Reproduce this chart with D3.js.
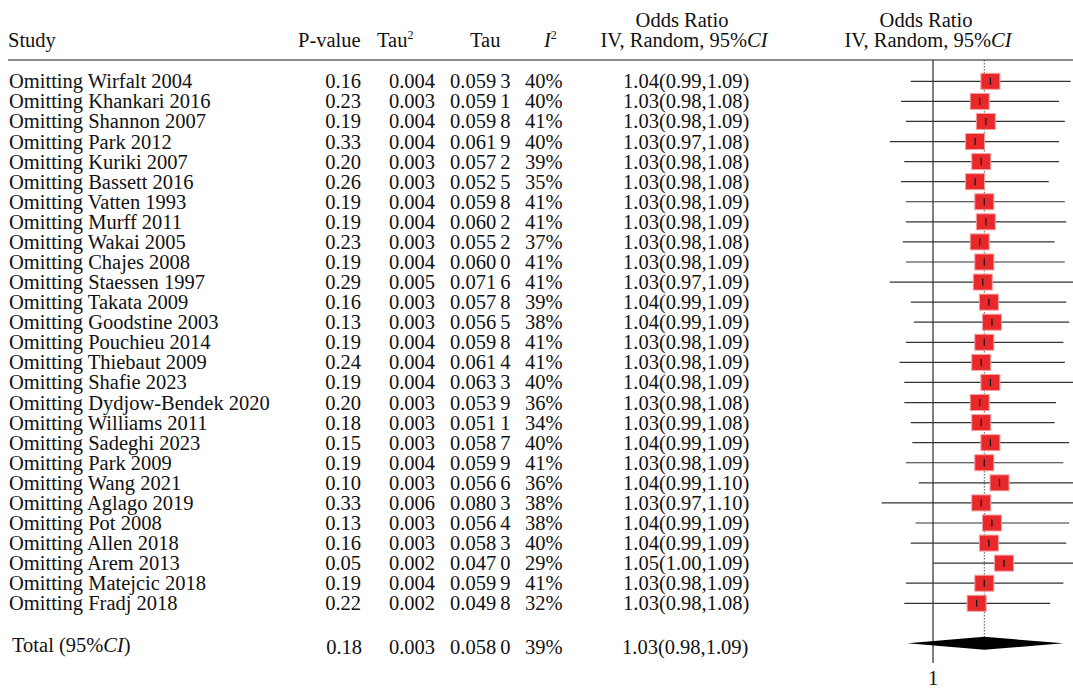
<!DOCTYPE html>
<html>
<head>
<meta charset="utf-8">
<script src="https://cdn.jsdelivr.net/npm/d3@7"></script>
<style>
  body { margin: 0; background: #fff; }
  text { font-family: "Liberation Serif", "Times New Roman", serif; fill: #111; }
</style>
</head>
<body>
<svg id="chart" width="1073" height="690"></svg>
<script>
// Leave-one-out sensitivity analysis: each row omits one study
const studies = [
  "Omitting Wirfalt 2004", "Omitting Khankari 2016", "Omitting Shannon 2007",
  "Omitting Park 2012", "Omitting Kuriki 2007", "Omitting Bassett 2016",
  "Omitting Vatten 1993", "Omitting Murff 2011", "Omitting Wakai 2005",
  "Omitting Chajes 2008", "Omitting Staessen 1997", "Omitting Takata 2009",
  "Omitting Goodstine 2003", "Omitting Pouchieu 2014", "Omitting Thiebaut 2009",
  "Omitting Shafie 2023", "Omitting Dydjow-Bendek 2020", "Omitting Williams 2011",
  "Omitting Sadeghi 2023", "Omitting Park 2009", "Omitting Wang 2021",
  "Omitting Aglago 2019", "Omitting Pot 2008", "Omitting Allen 2018",
  "Omitting Arem 2013", "Omitting Matejcic 2018", "Omitting Fradj 2018"
];
const pValues = [0.16, 0.23, 0.19, 0.33, 0.20, 0.26, 0.19, 0.19, 0.23, 0.19, 0.29, 0.16, 0.13, 0.19,
                 0.24, 0.19, 0.20, 0.18, 0.15, 0.19, 0.10, 0.33, 0.13, 0.16, 0.05, 0.19, 0.22];
const tau2 = [0.004, 0.003, 0.004, 0.004, 0.003, 0.003, 0.004, 0.004, 0.003, 0.004, 0.005, 0.003, 0.003, 0.004,
              0.004, 0.004, 0.003, 0.003, 0.003, 0.004, 0.003, 0.006, 0.003, 0.003, 0.002, 0.004, 0.002];
const tau = [0.0593, 0.0591, 0.0598, 0.0619, 0.0572, 0.0525, 0.0598, 0.0602, 0.0552, 0.0600, 0.0716, 0.0578,
             0.0565, 0.0598, 0.0614, 0.0633, 0.0539, 0.0511, 0.0587, 0.0599, 0.0566, 0.0803, 0.0564, 0.0583,
             0.0470, 0.0599, 0.0498];
const i2 = [40, 40, 41, 40, 39, 35, 41, 41, 37, 41, 41, 39, 38, 41, 41, 40, 36, 34, 40, 41, 36, 38, 38, 40, 29, 41, 32];
const orEst  = [1.037, 1.030, 1.034, 1.027, 1.031, 1.027, 1.033, 1.034, 1.030, 1.033, 1.032, 1.036, 1.038, 1.033,
                1.031, 1.037, 1.030, 1.031, 1.037, 1.033, 1.043, 1.031, 1.038, 1.036, 1.046, 1.033, 1.028];
const orLow  = [0.986, 0.980, 0.983, 0.973, 0.982, 0.980, 0.983, 0.983, 0.981, 0.983, 0.973, 0.986, 0.988, 0.983,
                0.979, 0.982, 0.982, 0.986, 0.987, 0.983, 0.991, 0.968, 0.989, 0.986, 1.000, 0.983, 0.982];
const orHigh = [1.091, 1.083, 1.087, 1.083, 1.083, 1.076, 1.087, 1.088, 1.080, 1.087, 1.094, 1.088, 1.090, 1.086,
                1.087, 1.094, 1.081, 1.080, 1.090, 1.086, 1.097, 1.099, 1.090, 1.088, 1.094, 1.086, 1.077];

// Pooled (all studies) result
const totalP = 0.18, totalTau2 = 0.003, totalTau = 0.0580, totalI2 = 39;
const totalEst = 1.033, totalLow = 0.984, totalHigh = 1.086;
const axisTicks = [1];

const rows = studies.map((s, i) => ({
  study: s, p: pValues[i], tau2: tau2[i], tau: tau[i], i2: i2[i],
  est: orEst[i], low: orLow[i], high: orHigh[i]
}));

const fmtTau = v => { const s = v.toFixed(4); return s.slice(0, 5) + "\u2009" + s.slice(5); };
const fmtOR = (e, l, h) => `${e.toFixed(2)}(${l.toFixed(2)},${h.toFixed(2)})`;

const svg = d3.select("#chart");
const FS = 20.5;

// Scales
const pxPerLog = 1580, xOne = 933;
const x = d3.scaleLog()
  .domain([0.95, 1.10])
  .range([xOne + pxPerLog * Math.log(0.95), xOne + pxPerLog * Math.log(1.10)]);
const y = d3.scalePoint().domain(studies).range([81.3, 603.3]);
const yTotal = 643.3;

// Header
const head = svg.append("g").style("font-size", FS + "px");
head.append("text").attr("x", 8).attr("y", 47).text("Study");
head.append("text").attr("x", 298).attr("y", 47).text("P-value");
const t2 = head.append("text").attr("x", 377).attr("y", 47);
t2.append("tspan").text("Tau");
t2.append("tspan").attr("dy", -8).style("font-size", "12px").text("2");
head.append("text").attr("x", 470).attr("y", 47).text("Tau");
const ih = head.append("text").attr("x", 544).attr("y", 47);
ih.append("tspan").style("font-style", "italic").text("I");
ih.append("tspan").attr("dy", -8).style("font-size", "12px").text("2");

function orHeader(cx) {
  head.append("text").attr("x", cx).attr("y", 27).attr("text-anchor", "middle").text("Odds Ratio");
  const t = head.append("text").attr("x", cx + 2).attr("y", 47).attr("text-anchor", "middle");
  t.append("tspan").text("IV, Random, 95%");
  t.append("tspan").style("font-style", "italic").text("CI");
}
orHeader(682);
orHeader(926);

// Header rule
svg.append("line").attr("x1", 8).attr("x2", 1073).attr("y1", 60).attr("y2", 60)
  .attr("stroke", "#8a8a8a").attr("stroke-width", 2);

// Table rows
const tbl = svg.append("g").style("font-size", FS + "px");
const rowG = tbl.selectAll("g.row").data(rows).join("g").attr("class", "row")
  .attr("transform", d => `translate(0,${y(d.study) + 7})`);
rowG.append("text").attr("x", 9).text(d => d.study);
rowG.append("text").attr("x", 361).attr("text-anchor", "end").text(d => d.p.toFixed(2));
rowG.append("text").attr("x", 412).attr("text-anchor", "middle").text(d => d.tau2.toFixed(3));
rowG.append("text").attr("x", 450).text(d => fmtTau(d.tau));
rowG.append("text").attr("x", 525).text(d => d.i2 + "%");
rowG.append("text").attr("x", 623).text(d => fmtOR(d.est, d.low, d.high));

// Total row
const tot = tbl.append("g");
const tl = tot.append("text").attr("x", 12).attr("y", 652);
tl.append("tspan").text("Total (95%");
tl.append("tspan").style("font-style", "italic").text("CI");
tl.append("tspan").text(")");
tot.append("text").attr("x", 362).attr("y", 653.5).attr("text-anchor", "end").text(totalP.toFixed(2));
tot.append("text").attr("x", 412).attr("y", 653.5).attr("text-anchor", "middle").text(totalTau2.toFixed(3));
tot.append("text").attr("x", 450).attr("y", 653.5).text(fmtTau(totalTau));
tot.append("text").attr("x", 525).attr("y", 653.5).text(totalI2 + "%");
tot.append("text").attr("x", 622).attr("y", 653.5).text(fmtOR(totalEst, totalLow, totalHigh));

// Forest plot
const plot = svg.append("g");

// Line of no effect
plot.selectAll("line.ref").data(axisTicks).join("line").attr("class", "ref")
  .attr("x1", d => x(d)).attr("x2", d => x(d)).attr("y1", 60).attr("y2", 663)
  .attr("stroke", "#555").attr("stroke-width", 1.5);

// Pooled estimate reference
plot.append("line")
  .attr("x1", x(totalEst)).attr("x2", x(totalEst)).attr("y1", 60).attr("y2", yTotal - 6)
  .attr("stroke", "#555").attr("stroke-width", 1).attr("stroke-dasharray", "1.5,1.5");

// Confidence intervals
plot.selectAll("line.ci").data(rows).join("line").attr("class", "ci")
  .attr("x1", d => x(d.low)).attr("x2", d => x(d.high))
  .attr("y1", d => y(d.study)).attr("y2", d => y(d.study))
  .attr("stroke", "#333").attr("stroke-width", 1.2);

// Point estimate boxes
const bw = 19, bh = 16;
plot.selectAll("rect.box").data(rows).join("rect").attr("class", "box")
  .attr("x", d => x(d.est) - bw / 2).attr("y", d => y(d.study) - bh / 2)
  .attr("width", bw).attr("height", bh)
  .attr("fill", "#e8282b").attr("stroke", "#f4a0a0").attr("stroke-width", 1);

plot.selectAll("line.tick").data(rows).join("line").attr("class", "tick")
  .attr("x1", d => x(d.est)).attr("x2", d => x(d.est))
  .attr("y1", d => y(d.study) - 3.5).attr("y2", d => y(d.study) + 3.5)
  .attr("stroke", "#111").attr("stroke-width", 1.2);

// Pooled diamond
plot.append("polygon")
  .attr("points", [
    [x(totalLow), yTotal], [x(totalEst), yTotal - 6.5],
    [x(totalHigh), yTotal], [x(totalEst), yTotal + 6.5]
  ].map(p => p.join(",")).join(" "))
  .attr("fill", "#000");

// Axis label
plot.selectAll("text.tk").data(axisTicks).join("text").attr("class", "tk")
  .attr("x", d => x(d)).attr("y", 685).attr("text-anchor", "middle")
  .style("font-size", FS + "px").text(d => d);
</script>
</body>
</html>
